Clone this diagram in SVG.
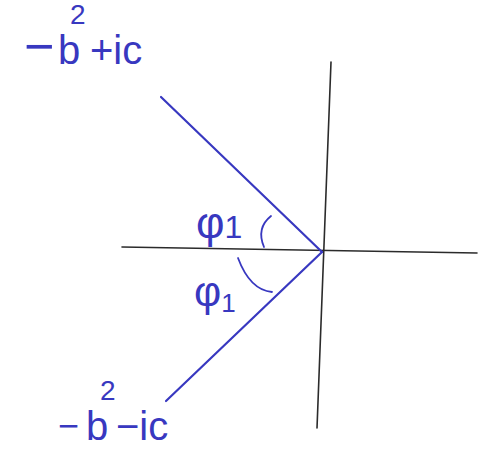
<svg xmlns="http://www.w3.org/2000/svg" width="480" height="450" viewBox="0 0 480 450">
<style>
.axis{stroke:#2b2b2b;stroke-width:1.6;fill:none;stroke-linecap:round}
.ray{stroke:#3838c0;stroke-width:2.2;fill:none;stroke-linecap:round}
.arc{stroke:#3838c0;stroke-width:1.8;fill:none;stroke-linecap:round}
.lbl{fill:#3838c0;font-family:"Liberation Sans",Arial,sans-serif}
</style>
<rect width="480" height="450" fill="#ffffff"/>
<g id="axes">
<line class="axis" x1="122" y1="247" x2="477" y2="253"/>
<line class="axis" x1="331" y1="62" x2="317" y2="428"/>
</g>
<g id="rays">
<line class="ray" x1="161" y1="97" x2="322" y2="252"/>
<line class="ray" x1="322" y1="252" x2="166" y2="401"/>
<path class="arc" d="M271 216 Q256 228 264 247"/>
<path class="arc" d="M238 258 Q250 290 272 292"/>
</g>
<g id="label-top">
<text class="lbl" font-size="40"><tspan x="24" y="64" font-size="52">−</tspan><tspan x="58" y="64">b</tspan><tspan x="70" y="24" font-size="28">2</tspan><tspan x="90" y="64">+ic</tspan></text>
</g>
<g id="label-bottom">
<text class="lbl" font-size="40"><tspan x="58" y="438" font-size="36">−</tspan><tspan x="86" y="440">b</tspan><tspan x="100" y="400" font-size="28">2</tspan><tspan x="116" y="440">−ic</tspan></text>
</g>
<g id="phi-top">
<text class="lbl" x="196" y="238" font-size="44">φ<tspan font-size="32">1</tspan></text>
</g>
<g id="phi-bottom">
<text class="lbl" x="194" y="306" font-size="42">φ<tspan font-size="26" dy="6">1</tspan></text>
</g>
</svg>
